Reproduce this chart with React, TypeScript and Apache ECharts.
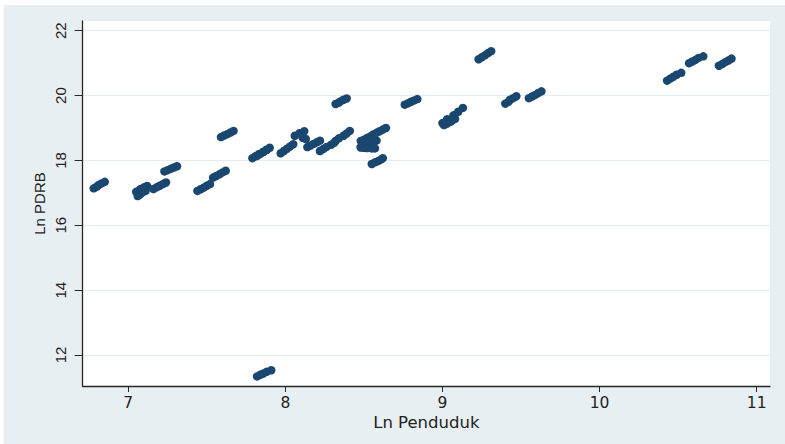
import React, { useEffect, useRef } from "react";
import * as echarts from "echarts";

const xTicks = [7, 8, 9, 10, 11];
const yTicks = [12, 14, 16, 18, 20, 22];

// Ln Penduduk (x) and Ln PDRB (y), one row per district (5 years each)
const lnPenduduk = [
  6.78, 6.80, 6.81, 6.83, 6.85,
  7.05, 7.07, 7.08, 7.10, 7.12,
  7.06, 7.07, 7.08, 7.09, 7.11,
  7.16, 7.18, 7.20, 7.22, 7.24,
  7.23, 7.25, 7.27, 7.29, 7.31,
  7.44, 7.46, 7.48, 7.50, 7.52,
  7.54, 7.56, 7.58, 7.60, 7.62,
  7.59, 7.61, 7.63, 7.65, 7.67,
  7.79, 7.81, 7.83, 7.86, 7.88,
  7.82, 7.84, 7.86, 7.88, 7.90,
  7.97, 7.99, 8.01, 8.03, 8.05,
  8.06, 8.09, 8.12, 8.11, 8.13,
  8.14, 8.16, 8.18, 8.20, 8.22,
  8.22, 8.24, 8.26, 8.29, 8.31,
  8.32, 8.34, 8.37, 8.39, 8.41,
  8.32, 8.34, 8.35, 8.37, 8.39,
  8.48, 8.50, 8.52, 8.54, 8.56,
  8.56, 8.58, 8.60, 8.62, 8.64,
  8.48, 8.51, 8.53, 8.56, 8.58,
  8.48, 8.50, 8.52, 8.55, 8.57,
  8.55, 8.57, 8.59, 8.61, 8.62,
  8.76, 8.78, 8.80, 8.82, 8.84,
  9.00, 9.03, 9.07, 9.10, 9.13,
  9.01, 9.03, 9.05, 9.06, 9.08,
  9.23, 9.25, 9.27, 9.29, 9.31,
  9.40, 9.42, 9.43, 9.45, 9.47,
  9.55, 9.57, 9.59, 9.61, 9.63,
  10.43, 10.45, 10.47, 10.49, 10.52,
  10.57, 10.59, 10.61, 10.63, 10.66,
  10.76, 10.78, 10.80, 10.82, 10.84,
  7.82, 7.84, 7.86, 7.88, 7.91,
];

const lnPdrb = [
  17.14, 17.19, 17.24, 17.29, 17.34,
  17.03, 17.08, 17.12, 17.17, 17.21,
  16.90, 16.94, 16.98, 17.02, 17.06,
  17.12, 17.17, 17.22, 17.27, 17.32,
  17.66, 17.70, 17.74, 17.78, 17.82,
  17.06, 17.11, 17.16, 17.22, 17.27,
  17.47, 17.52, 17.57, 17.63, 17.68,
  18.72, 18.77, 18.81, 18.86, 18.91,
  18.07, 18.13, 18.19, 18.26, 18.32,
  18.14, 18.20, 18.27, 18.33, 18.39,
  18.22, 18.29, 18.36, 18.43, 18.50,
  18.76, 18.84, 18.90, 18.70, 18.66,
  18.41, 18.46, 18.51, 18.56, 18.61,
  18.29, 18.35, 18.41, 18.48, 18.54,
  18.60, 18.68, 18.76, 18.83, 18.91,
  19.74, 19.78, 19.82, 19.87, 19.91,
  18.60, 18.64, 18.69, 18.74, 18.79,
  18.80, 18.85, 18.90, 18.95, 19.00,
  18.41, 18.46, 18.51, 18.56, 18.61,
  18.40, 18.39, 18.38, 18.37, 18.37,
  17.89, 17.94, 17.98, 18.03, 18.07,
  19.72, 19.76, 19.81, 19.85, 19.89,
  19.15, 19.27, 19.39, 19.50, 19.62,
  19.09, 19.14, 19.19, 19.23, 19.28,
  21.12, 21.18, 21.24, 21.31, 21.37,
  19.75, 19.81, 19.87, 19.92, 19.98,
  19.92, 19.97, 20.02, 20.08, 20.13,
  20.46, 20.52, 20.58, 20.64, 20.70,
  21.00, 21.05, 21.10, 21.16, 21.21,
  20.92, 20.97, 21.03, 21.08, 21.14,
  11.34, 11.39, 11.43, 11.48, 11.53,
];

export default function App() {
  const ref = useRef<HTMLDivElement>(null);

  useEffect(() => {
    if (!ref.current) return;
    const chart = echarts.init(ref.current, null, { renderer: "svg" });
    const data = lnPenduduk.map((x, i) => [x, lnPdrb[i]]);
    const axisColor = "#262626";
    chart.setOption({
      animation: false,
      backgroundColor: "#ffffff",
      graphic: [
        {
          type: "rect",
          z: -10,
          silent: true,
          shape: { x: 4, y: 5, width: 785, height: 444 },
          style: { fill: "#e8eff2" },
        },
      ],
      grid: {
        left: 82.7,
        right: 15,
        top: 21,
        bottom: 58,
        show: true,
        backgroundColor: "#ffffff",
        borderWidth: 0,
      },
      xAxis: {
        type: "value",
        min: 6.7097,
        max: 11.085,
        name: "Ln Penduduk",
        nameLocation: "middle",
        nameGap: 28,
        nameMoveOverlap: false,
        nameTextStyle: {
          fontFamily: "DejaVu Sans",
          fontSize: 16.5,
          lineHeight: 17,
          color: "#222222",
        },
        axisLine: { show: true, onZero: false, lineStyle: { color: axisColor, width: 1.3 } },
        axisTick: {
          show: true,
          length: 6,
          customValues: xTicks,
          lineStyle: { color: axisColor, width: 1 },
        },
        axisLabel: {
          customValues: xTicks,
          margin: 9,
          fontFamily: "DejaVu Sans",
          fontSize: 15.5,
          lineHeight: 15,
          color: "#222222",
        },
        splitLine: { show: false },
      },
      yAxis: {
        type: "value",
        min: 11.044,
        max: 22.299,
        name: "Ln PDRB",
        nameLocation: "middle",
        nameGap: 36,
        nameRotate: 90,
        nameMoveOverlap: false,
        nameTextStyle: {
          fontFamily: "Liberation Sans",
          fontSize: 15,
          color: "#222222",
        },
        axisLine: { show: true, onZero: false, lineStyle: { color: axisColor, width: 1.3 } },
        axisTick: {
          show: true,
          length: 8,
          customValues: yTicks,
          lineStyle: { color: axisColor, width: 1 },
        },
        axisLabel: {
          customValues: yTicks,
          rotate: 90,
          margin: 15,
          fontFamily: "Liberation Sans",
          fontSize: 15,
          color: "#222222",
        },
        splitLine: {
          show: true,
          lineStyle: { color: "#e4edf0", width: 1.2 },
        },
      },
      series: [
        {
          type: "scatter",
          data,
          symbol: "circle",
          symbolSize: 8.5,
          itemStyle: { color: "#1a476f", opacity: 1 },
        },
      ],
    });
    return () => chart.dispose();
  }, []);

  return (
    <div
      ref={ref}
      style={{ position: "fixed", left: 0, top: 0, width: 785, height: 444 }}
    />
  );
}
